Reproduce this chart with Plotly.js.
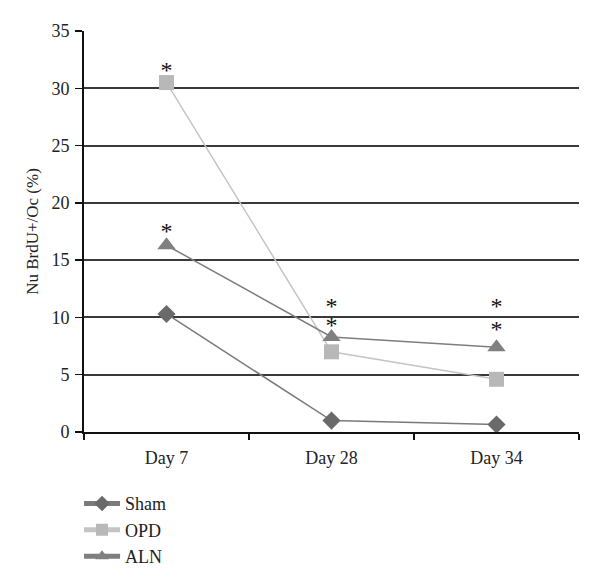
<!DOCTYPE html>
<html><head><meta charset="utf-8">
<script src="https://cdn.plot.ly/plotly-3.0.1.min.js"></script>
<style>body{margin:0;background:#fff}#c{width:600px;height:586px}</style>
</head><body><div id="c"></div>
<script>
const days = ["Day 7", "Day 28", "Day 34"];
const sham = [10.3, 1.0, 0.65];
const opd = [30.5, 7.0, 4.6];
const aln = [16.3, 8.3, 7.4];
const starDays = ["Day 7", "Day 7", "Day 28", "Day 28", "Day 34", "Day 34"];
const starY = [31.4, 17.4, 10.8, 9.2, 10.8, 8.8];
const yTicks = [0, 5, 10, 15, 20, 25, 30, 35];

const font = "Liberation Serif, Times New Roman, serif";
const traces = [
  {x: days, y: sham, name: "Sham", mode: "lines+markers", line: {color: "#7a7a7a", width: 1.5},
   marker: {symbol: "diamond", size: 14, color: "#6a6a6a"}},
  {x: days, y: opd, name: "OPD", mode: "lines+markers", line: {color: "#c4c4c4", width: 1.5},
   marker: {symbol: "square", size: 15, color: "#b8b8b8"}},
  {x: days, y: aln, name: "ALN", mode: "lines+markers", line: {color: "#7e7e7e", width: 1.5},
   marker: {symbol: "triangle-up", size: 16, color: "#808080"}},
  {x: starDays, y: starY, mode: "text", text: starDays.map(() => "*"), showlegend: false,
   textfont: {family: font, size: 24, color: "#111"}, hoverinfo: "skip"}
];
const layout = {
  width: 600, height: 586,
  margin: {l: 84, r: 21, t: 31, b: 153},
  paper_bgcolor: "#fff", plot_bgcolor: "#fff",
  font: {family: font, size: 18, color: "#222"},
  showlegend: true,
  legend: {x: -0.01, y: -0.13, xanchor: "left", yanchor: "top", orientation: "v",
    font: {family: font, size: 18, color: "#222"}, tracegroupgap: 0, itemwidth: 36,
    itemsizing: "constant"},
  xaxis: {type: "category", range: [-0.5, 2.5], showgrid: false, zeroline: false,
    showline: true, linecolor: "#111", linewidth: 2,
    ticks: "outside", ticklen: 6, tickcolor: "#111", tickwidth: 1.5, tickson: "boundaries",
    ticklabelstandoff: 8,
    tickfont: {family: font, size: 18, color: "#222"}},
  yaxis: {range: [0, 35], tickvals: yTicks, showgrid: true, gridcolor: "#3a3a3a", gridwidth: 2,
    zeroline: false, showline: true, linecolor: "#111", linewidth: 2,
    ticks: "outside", ticklen: 7, tickcolor: "#111", tickwidth: 1.5,
    ticklabelstandoff: 2,
    tickfont: {family: font, size: 18, color: "#222"},
    title: {text: "Nu BrdU+/Oc (%)", font: {family: font, size: 17, color: "#222"}, standoff: 8}}
};
Plotly.newPlot("c", traces, layout, {displayModeBar: false, staticPlot: true});
</script></body></html>
